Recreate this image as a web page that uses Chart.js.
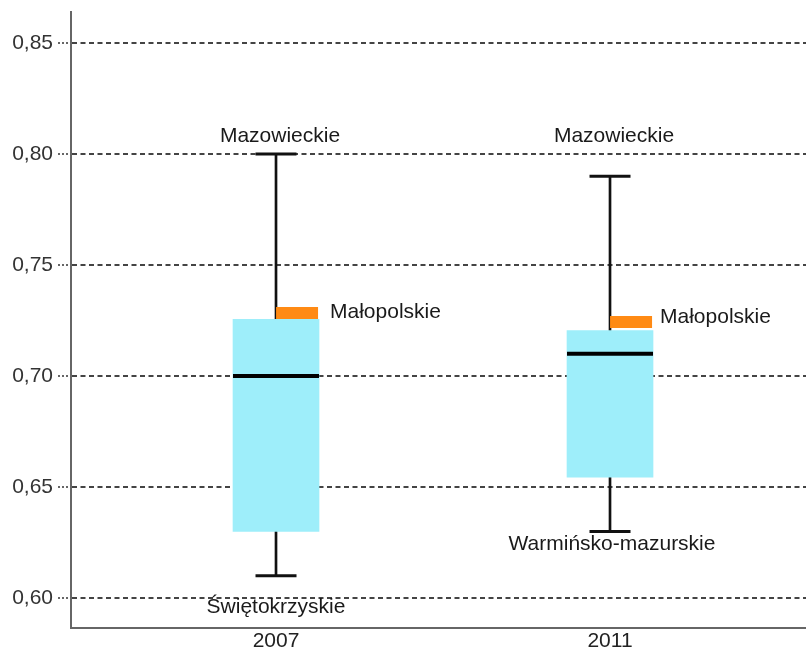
<!DOCTYPE html>
<html>
<head>
<meta charset="utf-8">
<script src="https://cdn.jsdelivr.net/npm/chart.js@4/dist/chart.umd.min.js"></script>
<style>
  html, body { margin: 0; padding: 0; background: #fff; overflow: hidden; }
  #wrap { width: 806px; height: 652px; position: relative; }
</style>
</head>
<body>
<div id="wrap"><canvas id="box"></canvas></div>
<script>
// box plot values per year
var years = ["2007", "2011"];
var whiskerLow = [0.61, 0.63];
var q1 = [0.63, 0.6545];
var median = [0.70, 0.71];
var q3 = [0.7255, 0.7205];
var whiskerHigh = [0.80, 0.79];
var malopolska = [0.7284, 0.7243];

// region labels
var labelText = ["Mazowieckie", "Małopolskie", "Świętokrzyskie", "Mazowieckie", "Małopolskie", "Warmińsko-mazurskie"];
var labelYear = [0, 0, 0, 1, 1, 1];
var labelValue = [0.808, 0.7288, 0.596, 0.808, 0.7266, 0.6243];

var yTicks = [0.60, 0.65, 0.70, 0.75, 0.80, 0.85];

var labelShift = [4, 54, 0, 4, 50, 2];
var labelAlign = ["center", "left", "center", "center", "left", "center"];
var markShift = 0.063;

Chart.defaults.font.family = "'Liberation Sans', Arial, sans-serif";
Chart.defaults.font.size = 21;
Chart.defaults.color = "#333";

var regionLabels = {
  id: "regionLabels",
  afterDatasetsDraw: function (chart) {
    var ctx = chart.ctx;
    var x = chart.scales.x;
    var y = chart.scales.y;
    ctx.save();
    ctx.font = "21px 'Liberation Sans', Arial, sans-serif";
    ctx.fillStyle = "#1a1a1a";
    ctx.textBaseline = "middle";
    labelText.forEach(function (t, i) {
      ctx.textAlign = labelAlign[i];
      ctx.fillText(t, x.getPixelForValue(labelYear[i]) + labelShift[i], y.getPixelForValue(labelValue[i]));
    });
    ctx.restore();
  },
};

var chart = new Chart(document.getElementById("box"), {
  type: "bar",
  data: {
    datasets: [
      {
        label: "whisker",
        data: years.map((_, i) => ({ x: i, y: [whiskerLow[i], whiskerHigh[i]] })),
        backgroundColor: "#111",
        barThickness: 2,
        grouped: false,
        order: 4,
      },
      {
        label: "box",
        data: years.map((_, i) => ({ x: i, y: [q1[i], q3[i]] })),
        backgroundColor: "#9EEEFA",
        barThickness: 86,
        grouped: false,
        order: 3,
      },
      {
        type: "scatter",
        label: "caps",
        data: years.map((_, i) => ({ x: i, y: whiskerLow[i] }))
          .concat(years.map((_, i) => ({ x: i, y: whiskerHigh[i] }))),
        pointStyle: "line",
        radius: 20.5,
        borderWidth: 3,
        borderColor: "#111",
        order: 2,
      },
      {
        type: "scatter",
        label: "median",
        data: years.map((_, i) => ({ x: i, y: median[i] })),
        pointStyle: "line",
        radius: 43,
        borderWidth: 4,
        borderColor: "#000",
        order: 1,
      },
      {
        type: "scatter",
        label: "Małopolskie",
        data: years.map((_, i) => ({ x: i + markShift, y: malopolska[i] })),
        pointStyle: "line",
        radius: 21,
        borderWidth: 12,
        borderColor: "#FF8A14",
        order: 0,
      },
    ],
  },
  options: {
    responsive: true,
    maintainAspectRatio: false,
    animation: false,
    layout: {
      autoPadding: false,
      padding: { top: 12, right: 0, left: 0, bottom: 0 },
    },
    plugins: {
      legend: { display: false },
      tooltip: { enabled: false },
    },
    scales: {
      x: {
        type: "linear",
        offset: false,
        min: -0.6138,
        max: 1.5868,
        afterBuildTicks: function (scale) {
          scale.ticks = years.map((_, i) => ({ value: i }));
        },
        afterFit: function (scale) {
          scale.height = 24;
          scale.paddingLeft = 0;
          scale.paddingRight = 0;
        },
        ticks: {
          padding: 1,
          color: "#222",
          callback: function (v) {
            return years[v];
          },
        },
        grid: { display: false, drawTicks: false, offset: false },
        border: { color: "#666", width: 2 },
      },
      y: {
        min: 0.5865,
        max: 0.864,
        afterBuildTicks: function (scale) {
          scale.ticks = yTicks.map((v) => ({ value: v }));
        },
        afterFit: function (scale) {
          scale.width = 71;
          scale.paddingTop = 0;
          scale.paddingBottom = 0;
        },
        ticks: {
          padding: 5,
          color: "#333",
          callback: function (v) {
            return v.toFixed(2).replace(".", ",");
          },
        },
        grid: {
          color: "#444",
          lineWidth: 2,
          tickLength: 13,
          tickColor: "#666",
          tickBorderDash: [2, 2],
        },
        border: { color: "#666", width: 2, dash: [5, 3.5] },
      },
    },
  },
  plugins: [regionLabels],
});
</script>
</body>
</html>
